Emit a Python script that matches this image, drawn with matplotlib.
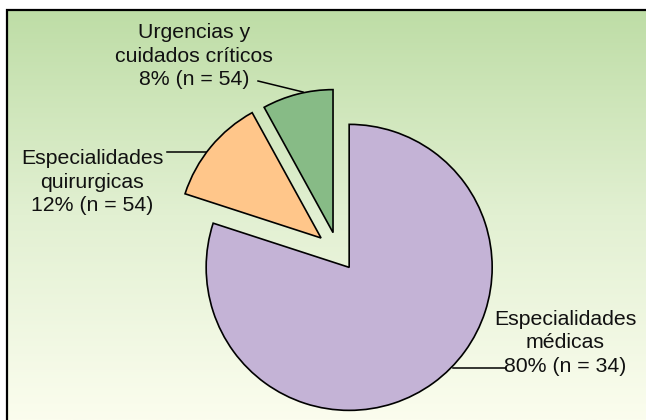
import matplotlib
matplotlib.use("Agg")
from matplotlib import pyplot as plt
from matplotlib.colors import LinearSegmentedColormap
from matplotlib.patches import Rectangle
import numpy as np

plt.rcParams['font.family'] = ['Liberation Sans', 'DejaVu Sans']

# datos
nombres = ['Urgencias y\ncuidados críticos', 'Especialidades\nquirurgicas', 'Especialidades\nmédicas']
porcentajes = [8, 12, 80]
n_casos = [54, 54, 34]
colores = ['#87bb86', '#ffc68a', '#c4b3d6']

W, H = 646, 420


def py(y):
    # pixel (y hacia abajo) -> coordenadas de datos (y hacia arriba)
    return H - y


fig = plt.figure(figsize=(W / 100, H / 100), dpi=100)
ax = fig.add_axes([0, 0, 1, 1])

# fondo con degradado
grad = np.linspace(0, 1, 256).reshape(-1, 1)
cmap = LinearSegmentedColormap.from_list('fondo', ['#bedda6', '#e2f0d2', '#fbfdee'])
ax.imshow(grad, extent=[7, W + 20, 0, py(10)], aspect='auto', cmap=cmap, zorder=0, origin='upper')
ax.add_patch(Rectangle((7, -20), W + 20, py(10) + 20, fill=False, ec='black', lw=1.6, zorder=1))

# tarta
wedges, _ = ax.pie(porcentajes, colors=colores, startangle=90, counterclock=True,
                   explode=[20, 22, 19], radius=143, center=(338, py(252)), frame=True,
                   wedgeprops=dict(edgecolor='black', linewidth=1.2))
for w in wedges:
    w.set_zorder(3)

# etiquetas con líneas guía
etiquetas = [f'{nom}\n{p}% (n = {n})' for nom, p, n in zip(nombres, porcentajes, n_casos)]
pos_texto = [(194, 56), (92, 182), (565, 343)]
guias = [((258, 81), (303, 92)), ((167, 152), (206, 152)), ((453, 368), (505, 368))]
for txt, (tx, ty), ((x0, y0), (x1, y1)) in zip(etiquetas, pos_texto, guias):
    ax.text(tx, py(ty), txt, ha='center', va='center', multialignment='center',
            fontsize=15.3, color='#111111', linespacing=1.3, zorder=4)
    ax.plot([x0, x1], [py(y0), py(y1)], color='black', lw=1.1, zorder=4)

ax.set_xlim(0, W)
ax.set_ylim(0, H)
ax.set_aspect('auto')
ax.axis('off')

plt.savefig('out.png', dpi=100)
